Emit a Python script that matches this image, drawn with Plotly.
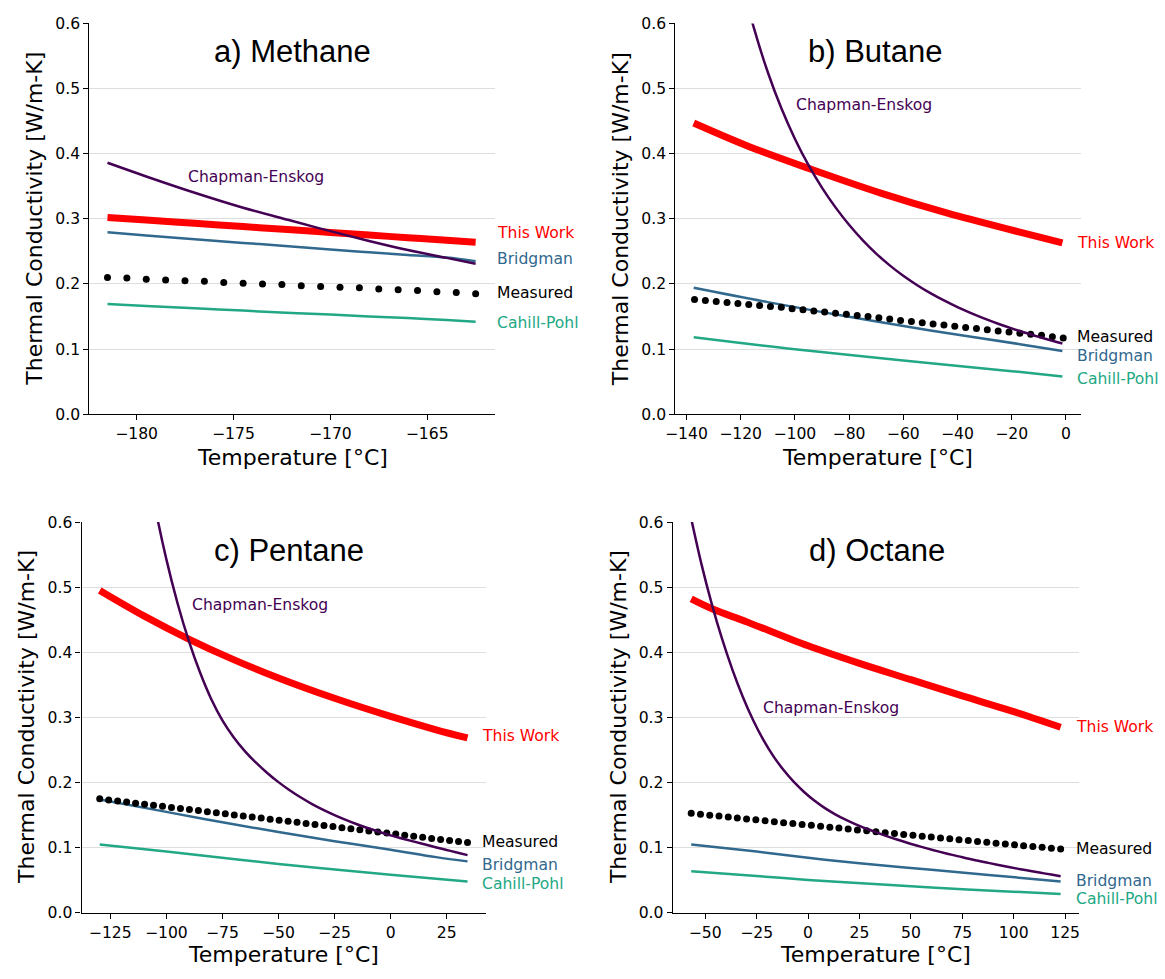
import plotly.graph_objects as go

# ---------------- data ----------------
# a) Methane
meth_T_line = [-181.5, -179.5, -177.0, -174.5, -172.0, -170.0, -168.0, -166.0, -164.0, -162.5]
meth_this_work = [0.302, 0.298, 0.293, 0.288, 0.283, 0.279, 0.275, 0.271, 0.267, 0.264]
meth_bridgman = [0.2795, 0.2745, 0.2685, 0.263, 0.2575, 0.253, 0.2485, 0.2445, 0.2405, 0.235]
meth_chapman = [0.386, 0.365, 0.340, 0.317, 0.297, 0.281, 0.266, 0.252, 0.240, 0.231]
meth_cahill = [0.169, 0.166, 0.1625, 0.159, 0.1555, 0.153, 0.150, 0.1475, 0.1445, 0.142]
meth_T_meas = [-181.5, -180.5, -179.5, -178.5, -177.5, -176.5, -175.5, -174.5, -173.5, -172.5,
               -171.5, -170.5, -169.5, -168.5, -167.5, -166.5, -165.5, -164.5, -163.5, -162.5]
meth_measured = [0.210, 0.209, 0.207, 0.206, 0.205, 0.204, 0.202, 0.201, 0.200, 0.199,
                 0.197, 0.196, 0.195, 0.194, 0.192, 0.191, 0.190, 0.188, 0.187, 0.185]

# b) Butane
but_T_this = [-137.3, -117.0, -94.0, -68.0, -44.0, -17.0, -1.3]
but_this_work = [0.447, 0.411, 0.376, 0.339, 0.309, 0.2795, 0.263]
but_T_bridg = [-137.3, -110.0, -80.0, -50.0, -17.0, -1.3]
but_bridgman = [0.194, 0.172, 0.1495, 0.1285, 0.1075, 0.097]
but_T_cahill = [-137.3, -100.0, -60.0, -20.0, -1.3]
but_cahill = [0.118, 0.0995, 0.0825, 0.066, 0.058]
but_T_ce = [-125, -120, -115, -110, -105, -100, -95, -90, -85, -80, -75, -70, -65, -60, -55,
            -50, -45, -40, -35, -30, -25, -20, -15, -10, -5, -1.3]
but_chapman = [0.7679, 0.6711, 0.5915, 0.5254, 0.4700, 0.4230, 0.3827, 0.3479, 0.3175, 0.2908,
               0.2673, 0.2466, 0.2285, 0.2125, 0.1984, 0.1858, 0.1746, 0.1644, 0.1552, 0.1467,
               0.1389, 0.1317, 0.1249, 0.1186, 0.1126, 0.1084]
but_T_meas = [-137, -133, -129, -125, -121, -117, -113, -109, -105, -101, -97, -93, -89, -85,
              -81, -77, -73, -69, -65, -61, -57, -53, -49, -45, -41, -37, -33, -29, -25, -21,
              -17, -13, -9, -5, -1]
but_measured = [0.176, 0.1745, 0.173, 0.1715, 0.170, 0.1685, 0.167, 0.1655, 0.164, 0.162,
                0.1605, 0.1585, 0.157, 0.155, 0.1535, 0.1515, 0.150, 0.148, 0.146, 0.144,
                0.1422, 0.1404, 0.1386, 0.1368, 0.135, 0.1332, 0.1314, 0.1296, 0.1278, 0.126,
                0.1244, 0.1226, 0.121, 0.119, 0.117]

# c) Pentane
pent_T_this = [-129.7, -110.0, -90.0, -70.0, -50.0, -25.0, 0.0, 20.3, 34.3]
pent_this_work = [0.495, 0.456, 0.4204, 0.3888, 0.3606, 0.3294, 0.3016, 0.2811, 0.2685]
pent_T_bridg = [-129.7, -100.0, -75.0, -50.0, -25.0, 0.0, 20.3, 34.3]
pent_bridgman = [0.174, 0.155, 0.139, 0.124, 0.110, 0.097, 0.0855, 0.079]
pent_T_cahill = [-129.7, -100.0, -50.0, 0.0, 34.3]
pent_cahill = [0.105, 0.094, 0.075, 0.0585, 0.048]
pent_T_ce = [-110, -105, -100, -95, -90, -85, -80, -75, -70, -65, -60, -55, -50, -45, -40,
             -35, -30, -25, -20, -15, -10, -5, 0, 5, 10, 15, 20, 25, 30, 34.3]
pent_chapman = [0.717, 0.6229, 0.5431, 0.4754, 0.418, 0.3693, 0.3284, 0.2956, 0.2697, 0.2484,
                0.2305, 0.2148, 0.2007, 0.1882, 0.1770, 0.1670, 0.1581, 0.1501, 0.1428, 0.1360,
                0.1298, 0.1242, 0.1189, 0.1142, 0.1097, 0.1052, 0.1008, 0.0965, 0.0923, 0.0886]
pent_T_meas = [-129.7, -125.7, -121.7, -117.7, -113.7, -109.7, -105.7, -101.7, -97.7, -93.7,
               -89.7, -85.7, -81.7, -77.7, -73.7, -69.7, -65.7, -61.7, -57.7, -53.7,
               -49.7, -45.7, -41.7, -37.7, -33.7, -29.7, -25.7, -21.7, -17.7, -13.7,
               -9.7, -5.7, -1.7, 2.3, 6.3, 10.3, 14.3, 18.3, 22.3, 26.3, 30.3, 34.3]
pent_measured = [0.1750, 0.1734, 0.1717, 0.1701, 0.1684, 0.1668, 0.1652, 0.1635, 0.1619, 0.1602,
                 0.1586, 0.1570, 0.1553, 0.1537, 0.1520, 0.1504, 0.1488, 0.1471, 0.1455, 0.1438,
                 0.1422, 0.1406, 0.1389, 0.1373, 0.1356, 0.1340, 0.1324, 0.1307, 0.1291, 0.1274,
                 0.1258, 0.1242, 0.1225, 0.1209, 0.1192, 0.1176, 0.1160, 0.1143, 0.1127, 0.1110,
                 0.1094, 0.1078]

# d) Octane
oct_T_this = [-56.8, -46.1, -30.0, 0.0, 25.0, 50.0, 75.0, 100.0, 122.8]
oct_this_work = [0.482, 0.466, 0.447, 0.410, 0.383, 0.358, 0.333, 0.309, 0.285]
oct_T_ce = [-56.8, -51.8, -46.8, -41.8, -36.8, -31.8, -26.8, -21.8, -16.8, -11.8, -6.8, -1.8,
            3.2, 8.2, 13.2, 18.2, 23.2, 28.2, 33.2, 38.2, 43.2, 48.2, 53.2, 58.2, 63.2, 68.2,
            73.2, 78.2, 83.2, 88.2, 93.2, 98.2, 103.2, 108.2, 113.2, 118.2, 122.8]
oct_chapman = [0.605, 0.535, 0.474, 0.4205, 0.3735, 0.3323, 0.2965, 0.2660, 0.2403, 0.2188,
               0.2006, 0.1852, 0.1720, 0.1607, 0.1513, 0.1431, 0.1359, 0.1295, 0.1235, 0.1178,
               0.1125, 0.1076, 0.1030, 0.0986, 0.0944, 0.0904, 0.0867, 0.0830, 0.0796, 0.0763,
               0.0731, 0.0700, 0.0670, 0.0642, 0.0614, 0.0587, 0.0562]
oct_T_bridg = [-56.8, -25.0, 0.0, 25.0, 60.0, 92.0, 122.8]
oct_bridgman = [0.105, 0.094, 0.0845, 0.076, 0.066, 0.057, 0.048]
oct_T_cahill = [-56.8, -25.0, 0.0, 30.0, 60.0, 92.0, 122.8]
oct_cahill = [0.064, 0.0565, 0.0505, 0.0445, 0.039, 0.0335, 0.029]
oct_T_meas = [-56.8, -52.3, -47.8, -43.3, -38.8, -34.4, -29.9, -25.4, -20.9, -16.4,
              -11.9, -7.4, -2.9, 1.6, 6.1, 10.6, 15.0, 19.5, 24.0, 28.5,
              33.0, 37.5, 42.0, 46.5, 51.0, 55.5, 59.9, 64.4, 68.9, 73.4,
              77.9, 82.4, 86.9, 91.4, 95.9, 100.4, 104.8, 109.3, 113.8, 118.3, 122.8]
oct_measured = [0.1530, 0.1515, 0.1500, 0.1486, 0.1471, 0.1457, 0.1442, 0.1428, 0.1413, 0.1399,
                0.1385, 0.1371, 0.1357, 0.1343, 0.1329, 0.1315, 0.1301, 0.1287, 0.1273, 0.1259,
                0.1245, 0.1231, 0.1218, 0.1204, 0.1190, 0.1177, 0.1163, 0.1150, 0.1136, 0.1123,
                0.1110, 0.1096, 0.1083, 0.1070, 0.1057, 0.1044, 0.1031, 0.1018, 0.1005, 0.0992,
                0.0979]

titles = ["a) Methane", "b) Butane", "c) Pentane", "d) Octane"]
y_ticks = [0.0, 0.1, 0.2, 0.3, 0.4, 0.5, 0.6]
x_ticks = [[-180, -175, -170, -165],
           [-140, -120, -100, -80, -60, -40, -20, 0],
           [-125, -100, -75, -50, -25, 0, 25],
           [-50, -25, 0, 25, 50, 75, 100, 125]]

# ---------------- style / layout ----------------
C_THIS = "#ff0000"
C_CE = "#440154"
C_BR = "#31688e"
C_CP = "#22a884"
C_MEAS = "#000000"
TXT = "DejaVu Sans"

panels = [
    dict(T_this=meth_T_line, this=meth_this_work, T_br=meth_T_line, br=meth_bridgman,
         T_cp=meth_T_line, cp=meth_cahill, T_ce=meth_T_line, ce=meth_chapman,
         T_m=meth_T_meas, m=meth_measured,
         xdom=[0.0687, 0.4203], ydom=[0.5784, 0.9850], xrange=[-182.44, -161.5],
         lab_x=1.002, lab_y=dict(tw=0.278, br=0.238, me=0.1865, cp=0.140), ce_lab=(-177.45, 0.364),
         title_x=0.5),
    dict(T_this=but_T_this, this=but_this_work, T_br=but_T_bridg, br=but_bridgman,
         T_cp=but_T_cahill, cp=but_cahill, T_ce=but_T_ce, ce=but_chapman,
         T_m=but_T_meas, m=but_measured,
         xdom=[0.5765, 0.9278], ydom=[0.5784, 0.9850], xrange=[-144.1, 5.44],
         lab_x=0.988, lab_y=dict(tw=0.263, br=0.0895, me=0.118, cp=0.054), ce_lab=(-100.2, 0.474),
         title_x=0.493),
    dict(T_this=pent_T_this, this=pent_this_work, T_br=pent_T_bridg, br=pent_bridgman,
         T_cp=pent_T_cahill, cp=pent_cahill, T_ce=pent_T_ce, ce=pent_chapman,
         T_m=pent_T_meas, m=pent_measured,
         xdom=[0.0620, 0.4124], ydom=[0.0595, 0.4661], xrange=[-137.8, 42.5],
         lab_x=0.989, lab_y=dict(tw=0.271, br=0.073, me=0.109, cp=0.045), ce_lab=(-89.4, 0.472),
         title_x=0.512),
    dict(T_this=oct_T_this, this=oct_this_work, T_br=oct_T_bridg, br=oct_bridgman,
         T_cp=oct_T_cahill, cp=oct_cahill, T_ce=oct_T_ce, ce=oct_chapman,
         T_m=oct_T_meas, m=oct_measured,
         xdom=[0.5742, 0.9262], ydom=[0.0595, 0.4661], xrange=[-65.85, 131.65],
         lab_x=0.9916, lab_y=dict(tw=0.2855, br=0.0495, me=0.0986, cp=0.0215), ce_lab=(-23.1, 0.315),
         title_x=0.503),
]

fig = go.Figure()
annotations = []
layout_axes = {}


def minus(v):
    return f"{v:g}".replace("-", "\u2212")


for i, p in enumerate(panels):
    n = "" if i == 0 else str(i + 1)
    xa, ya = "x" + n, "y" + n
    fig.add_trace(go.Scatter(x=p["T_this"], y=p["this"], mode="lines", xaxis=xa, yaxis=ya,
                             line=dict(color=C_THIS, width=7, shape="spline"), showlegend=False))
    fig.add_trace(go.Scatter(x=p["T_br"], y=p["br"], mode="lines", xaxis=xa, yaxis=ya,
                             line=dict(color=C_BR, width=2.5, shape="spline"), showlegend=False))
    fig.add_trace(go.Scatter(x=p["T_cp"], y=p["cp"], mode="lines", xaxis=xa, yaxis=ya,
                             line=dict(color=C_CP, width=2.5, shape="spline"), showlegend=False))
    fig.add_trace(go.Scatter(x=p["T_m"], y=p["m"], mode="markers", xaxis=xa, yaxis=ya,
                             marker=dict(color=C_MEAS, size=7, line=dict(width=0)), showlegend=False))
    fig.add_trace(go.Scatter(x=p["T_ce"], y=p["ce"], mode="lines", xaxis=xa, yaxis=ya,
                             line=dict(color=C_CE, width=2.5, shape="spline"), showlegend=False))

    layout_axes["xaxis" + n] = dict(
        domain=p["xdom"], anchor=ya, range=p["xrange"], showgrid=False, zeroline=False,
        showline=True, linecolor="black", linewidth=1.1, ticks="outside", ticklen=5,
        tickwidth=1.1, tickcolor="black", tickvals=x_ticks[i],
        ticktext=[minus(v) for v in x_ticks[i]],
        tickfont=dict(family=TXT, size=15.6, color="black"))
    layout_axes["yaxis" + n] = dict(
        domain=p["ydom"], anchor=xa, range=[0, 0.6], showgrid=True, gridcolor="#dedede",
        gridwidth=1, zeroline=False, showline=True, linecolor="black", linewidth=1.1,
        ticks="outside", ticklen=5, tickwidth=1.1, tickcolor="black", tickvals=y_ticks,
        ticktext=[f"{v:.1f}" for v in y_ticks],
        tickfont=dict(family=TXT, size=15.6, color="black"))

    # panel title
    annotations.append(dict(text=titles[i], xref=xa + " domain", yref=ya, x=p["title_x"], y=0.557,
                            xanchor="center", yanchor="middle", showarrow=False,
                            font=dict(family="Liberation Sans, Arial", size=31, color="black")))
    # right-hand series labels
    for key, label, col in [("tw", "This Work", C_THIS), ("br", "Bridgman", C_BR),
                            ("me", "Measured", C_MEAS), ("cp", "Cahill-Pohl", C_CP)]:
        annotations.append(dict(text=label, xref=xa + " domain", yref=ya, x=p["lab_x"],
                                y=p["lab_y"][key], xanchor="left", yanchor="middle",
                                showarrow=False, borderpad=0,
                                font=dict(family=TXT, size=15.6, color=col)))
    annotations.append(dict(text="Chapman-Enskog", xref=xa, yref=ya, x=p["ce_lab"][0],
                            y=p["ce_lab"][1], xanchor="left", yanchor="middle", showarrow=False,
                            font=dict(family=TXT, size=15.6, color=C_CE)))
    # axis titles
    xc = (p["xdom"][0] + p["xdom"][1]) / 2
    yc = (p["ydom"][0] + p["ydom"][1]) / 2
    xt_y = 0.5335 if i < 2 else 0.016
    annotations.append(dict(text="Temperature [\u00b0C]", xref="paper", yref="paper", x=xc, y=xt_y,
                            xanchor="center", yanchor="middle", showarrow=False,
                            font=dict(family=TXT, size=22, color="black")))
    yt_x = [0.0216, 0.529, 0.0143, 0.5274][i]
    annotations.append(dict(text="Thermal Conductivity [W/m-K]", xref="paper", yref="paper",
                            x=yt_x, y=yc, xanchor="center", yanchor="middle", textangle=-90,
                            showarrow=False, font=dict(family=TXT, size=22, color="black")))

fig.update_layout(
    width=1165, height=979, margin=dict(l=0, r=0, t=0, b=0),
    paper_bgcolor="white", plot_bgcolor="white", showlegend=False,
    annotations=annotations, **layout_axes)

fig.write_html("out.html")
